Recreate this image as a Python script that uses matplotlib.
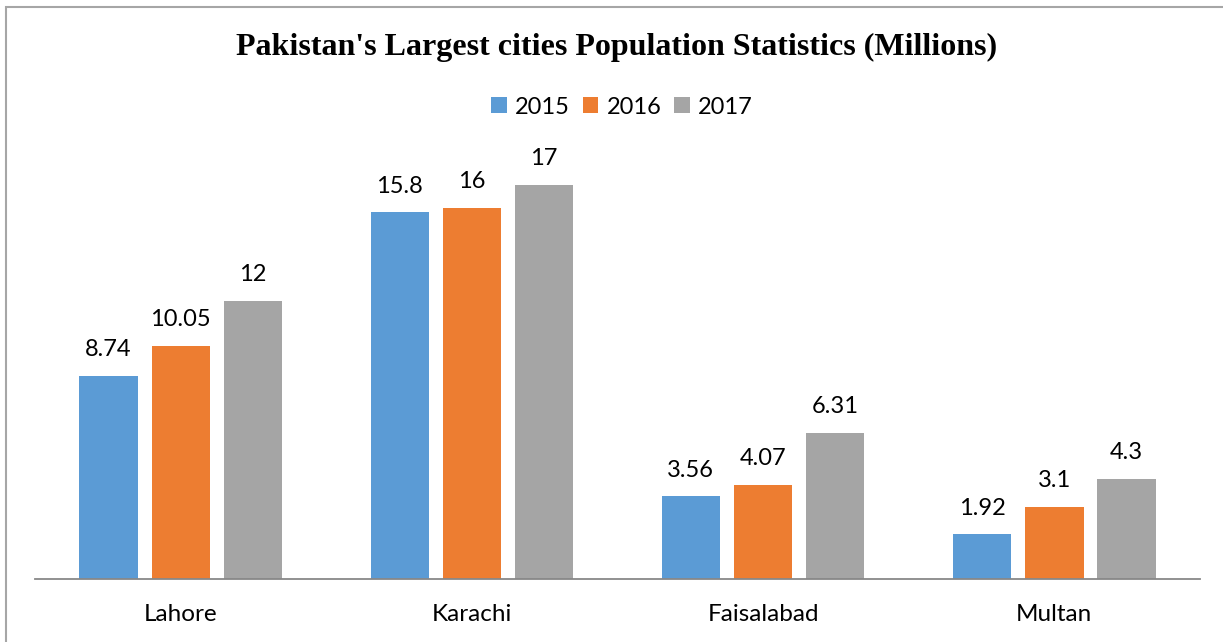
import numpy as np
import matplotlib.pyplot as plt
from matplotlib.patches import Rectangle

cities = ["Lahore", "Karachi", "Faisalabad", "Multan"]
years = ["2015", "2016", "2017"]
pop_2015 = [8.74, 15.8, 3.56, 1.92]
pop_2016 = [10.05, 16, 4.07, 3.1]
pop_2017 = [12, 17, 6.31, 4.3]
colors = ["#5B9BD5", "#ED7D31", "#A5A5A5"]

W, H = 1223, 642
fig = plt.figure(figsize=(W / 100, H / 100), dpi=100)

# axes placement in pixels
x0, x1 = 35, 1200
ybase, ytop = 579, 579 - 18 * 23.2
ax = fig.add_axes([x0 / W, (H - ybase) / H, (x1 - x0) / W, (ybase - ytop) / H])

x = np.arange(len(cities))
step = 0.248
width = 0.2
for i, (vals, yr) in enumerate(zip([pop_2015, pop_2016, pop_2017], years)):
    pos = x + (i - 1) * step
    ax.bar(pos, vals, width, color=colors[i], label=yr)
    for p, v in zip(pos, vals):
        ax.annotate(f"{v:g}", (p, v), xytext=(0, 19), textcoords="offset points",
                    ha="center", va="center", fontsize=17, family="Lato", color="#000000")

ax.set_xlim(-0.5, len(cities) - 0.5)
ax.set_ylim(0, 18)
ax.set_yticks([])
ax.set_xticks(x)
ax.set_xticklabels(cities, fontsize=17.5, family="Lato")
ax.tick_params(axis="x", length=0, pad=18)
for s in ["top", "right", "left"]:
    ax.spines[s].set_visible(False)
ax.spines["bottom"].set_color("#888888")
ax.spines["bottom"].set_linewidth(1.3)

fig.text(617 / W, 1 - 47 / H, "Pakistan's Largest cities Population Statistics (Millions)",
         ha="center", va="center", fontsize=23, fontweight="bold", family="Liberation Serif")

leg = fig.legend(loc="center", bbox_to_anchor=(622 / W, 1 - 107 / H), ncol=3, frameon=False,
                 prop={"family": "Lato", "size": 17}, handlelength=0.65, handleheight=0.65,
                 handletextpad=0.35, columnspacing=0.55)

# outer border (top and left visible)
fig.patches.append(Rectangle((5.5 / W, -0.1), 1.2, 1 - 6.5 / H + 0.1, transform=fig.transFigure,
                             fill=False, edgecolor="#A6A6A6", linewidth=1.5))

fig.savefig("out.png", dpi=100)
